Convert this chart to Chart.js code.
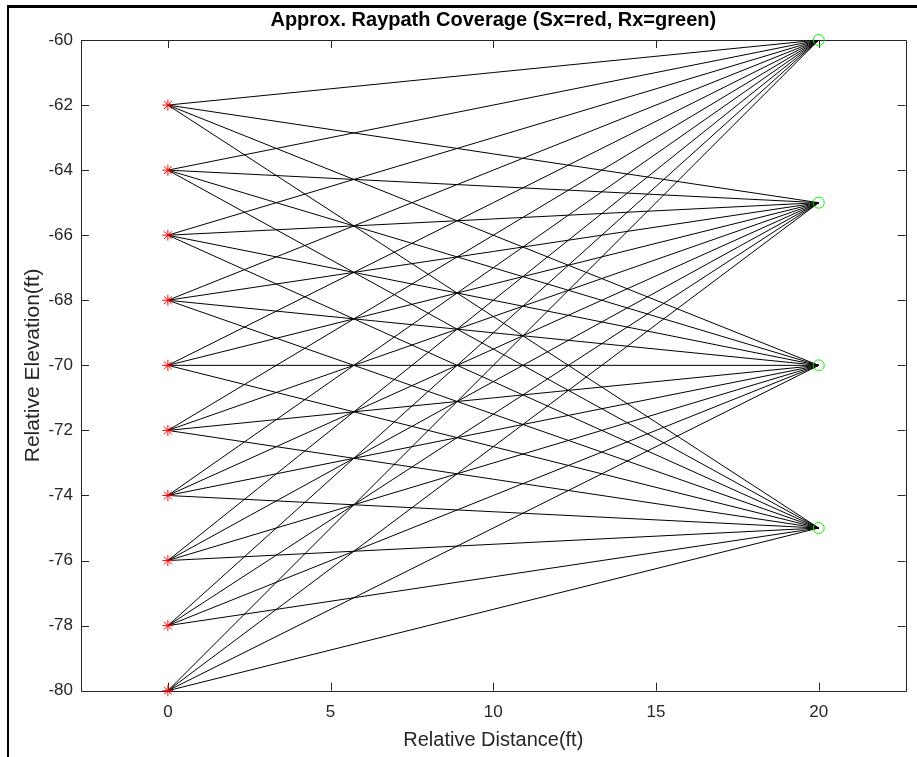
<!DOCTYPE html>
<html>
<head>
<meta charset="utf-8">
<script src="https://cdn.jsdelivr.net/npm/chart.js@4.4.1/dist/chart.umd.min.js"></script>
<style>
  html, body { margin: 0; padding: 0; background: #ffffff; }
  #wrap { position: relative; width: 917px; height: 757px; overflow: hidden; }
  #frame {
    position: absolute; left: 7px; top: 5px; right: -10px; bottom: -10px;
    border-top: 3px solid #000; border-left: 2px solid #000;
    pointer-events: none;
  }
  canvas { position: absolute; left: 0; top: 0; }
</style>
</head>
<body>
<div id="wrap">
  <canvas id="c" width="917" height="757"></canvas>
  <div id="frame"></div>
</div>
<script>
// Source (Sx) positions along the left borehole
const sourceX = 0;
const sourceDepths = [-62, -64, -66, -68, -70, -72, -74, -76, -78, -80];
// Receiver (Rx) positions along the right borehole
const receiverX = 20;
const receiverDepths = [-60, -65, -70, -75];
// Axis ticks
const xTicks = [0, 5, 10, 15, 20];
const yTicks = [-80, -78, -76, -74, -72, -70, -68, -66, -64, -62, -60];
const xRange = [-2.67, 22.67];
const yRange = [-80, -60];

const AXIS_COLOR = '#262626';
const FONT = '"Liberation Sans", Arial, Helvetica, sans-serif';

// one straight ray for every source/receiver pair
const rayDatasets = [];
sourceDepths.forEach(sy => {
  receiverDepths.forEach(ry => {
    rayDatasets.push({
      type: 'line',
      data: [{ x: sourceX, y: sy }, { x: receiverX, y: ry }],
      borderColor: '#000000',
      borderWidth: 1,
      pointRadius: 0,
      fill: false,
      tension: 0,
      order: 3
    });
  });
});

const sourceSet = {
  type: 'scatter',
  data: sourceDepths.map(y => ({ x: sourceX, y })),
  pointStyle: 'star',
  pointRadius: 5.5,
  borderColor: '#ff0000',
  backgroundColor: '#ff0000',
  pointBorderWidth: 1,
  clip: false,
  order: 1
};

const receiverSet = {
  type: 'scatter',
  data: receiverDepths.map(y => ({ x: receiverX, y })),
  pointStyle: 'circle',
  pointRadius: 5.5,
  borderColor: '#00ee00',
  backgroundColor: 'rgba(0,0,0,0)',
  pointBorderWidth: 1,
  clip: false,
  order: 1
};

// box around the axes with inward-pointing ticks on all four sides
const boxTicks = {
  id: 'boxTicks',
  beforeDatasetsDraw(chart) {
    const { ctx, chartArea: a, scales } = chart;
    const len = 8;
    ctx.save();
    ctx.strokeStyle = AXIS_COLOR;
    ctx.lineWidth = 1;
    ctx.beginPath();
    ctx.rect(Math.round(a.left) + 0.5, Math.round(a.top) + 0.5,
             Math.round(a.right - a.left), Math.round(a.bottom - a.top));
    xTicks.forEach(v => {
      const px = Math.round(scales.x.getPixelForValue(v)) + 0.5;
      ctx.moveTo(px, a.bottom); ctx.lineTo(px, a.bottom - len);
      ctx.moveTo(px, a.top); ctx.lineTo(px, a.top + len);
    });
    yTicks.forEach(v => {
      const py = Math.round(scales.y.getPixelForValue(v)) + 0.5;
      ctx.moveTo(a.left, py); ctx.lineTo(a.left + len, py);
      ctx.moveTo(a.right, py); ctx.lineTo(a.right - len, py);
    });
    ctx.stroke();
    ctx.restore();
  }
};

new Chart(document.getElementById('c'), {
  type: 'scatter',
  data: { datasets: [...rayDatasets, sourceSet, receiverSet] },
  options: {
    responsive: false,
    animation: false,
    events: [],
    layout: { padding: { top: 0, right: 11.4, bottom: 0, left: 0 } },
    plugins: {
      legend: { display: false },
      tooltip: { enabled: false },
      title: {
        display: true,
        fullSize: false,
        text: 'Approx. Raypath Coverage (Sx=red, Rx=green)',
        color: '#000000',
        font: { family: FONT, size: 20, weight: 'bold', lineHeight: 1.2 },
        padding: { top: 8, bottom: 8 }
      }
    },
    scales: {
      x: {
        type: 'linear',
        min: xRange[0],
        max: xRange[1],
        grid: { display: false, drawTicks: false },
        border: { display: false },
        afterBuildTicks: s => { s.ticks = xTicks.map(v => ({ value: v })); },
        afterFit: s => { s.height = 66.3; },
        ticks: {
          color: AXIS_COLOR,
          font: { family: FONT, size: 17 },
          padding: 11,
          maxRotation: 0
        },
        title: {
          display: true,
          text: 'Relative Distance(ft)',
          color: AXIS_COLOR,
          font: { family: FONT, size: 20, lineHeight: 1.2 },
          padding: { top: 0, bottom: 5 }
        }
      },
      y: {
        type: 'linear',
        min: yRange[0],
        max: yRange[1],
        grid: { display: false, drawTicks: false },
        border: { display: false },
        afterBuildTicks: s => { s.ticks = yTicks.map(v => ({ value: v })); },
        afterFit: s => { s.width = 81; },
        ticks: {
          color: AXIS_COLOR,
          font: { family: FONT, size: 17 },
          padding: 8
        },
        title: {
          display: true,
          text: 'Relative Elevation(ft)',
          color: AXIS_COLOR,
          font: { family: FONT, size: 21, lineHeight: 1.2 },
          padding: { top: 20.4, bottom: 0 }
        }
      }
    }
  },
  plugins: [boxTicks]
});
</script>
</body>
</html>
